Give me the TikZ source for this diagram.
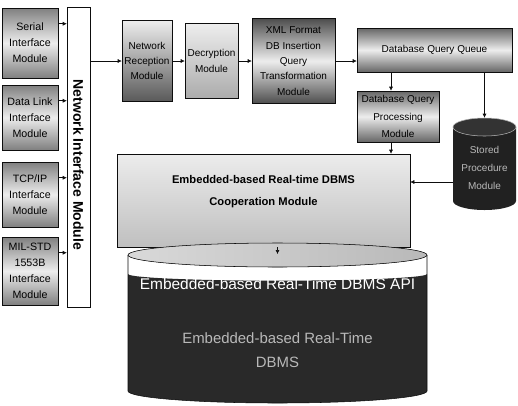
\documentclass[tikz,border=0pt]{standalone}
\usepackage{fontspec}
\setmainfont{Liberation Sans}
\usepackage{graphicx}
\usetikzlibrary{arrows.meta,calc}
\definecolor{ink}{gray}{0.05}
\definecolor{stipple}{gray}{0.5}
\definecolor{paper}{gray}{0.93}
\definecolor{tar}{gray}{0.13}
\tikzset{
  >={Latex[length=3pt,width=3pt]},
  module/.style={draw=ink,thin,inner sep=1pt,align=center,
    font=\fontsize{7.5}{11.5}\selectfont,
    top color=#1,bottom color=#1,middle color=paper},
  module/.default=stipple,
  fade/.style={draw=ink,thin,inner sep=1pt,align=center,
    font=\fontsize{7.5}{11.5}\selectfont,
    top color=paper,bottom color=#1},
  fade/.default=stipple,
  side/.style={minimum width=42pt,font=\fontsize{8}{12}\selectfont},
  link/.style={->,thin,draw=ink},
  cooptext/.style={yshift=6.75pt,align=center,
    font=\bfseries\fontsize{8.4}{17}\selectfont},
}

\begin{document}
\begin{tikzpicture}[x=0.75pt,y=-0.75pt]
  \useasboundingbox (0,0) rectangle (518,405);
  \fill[white] (0,0) rectangle (518,405);

  % interface modules
  \node[module,side,minimum height=52.5pt] (serial) at (30,43) {Serial\\Interface\\Module};
  \node[module,side,minimum height=48.75pt] (datalink) at (30,117.5) {Data Link\\Interface\\Module};
  \node[module,side,minimum height=48.75pt] (tcpip) at (30,194.5) {TCP/IP\\Interface\\Module};
  \node[module,side,minimum height=51pt] (milstd) at (30,271) {MIL-STD\\1553B\\Interface\\Module};
  \node[draw=ink,thin,fill=white,inner sep=0pt,minimum width=17.25pt,minimum height=225pt,
    font=\bfseries\fontsize{10.5}{12}\selectfont] (netif) at (78.5,157)
    {\rotatebox{-90}{\hspace*{12pt}Network Interface Module}};

  % receive path
  \node[fade=stipple!70!black,minimum width=37.5pt,minimum height=60.75pt] (netrec) at (147,61)
    {Network\\Reception\\Module};
  \node[fade=stipple!60!paper,minimum width=39.75pt,minimum height=56.25pt] (decrypt) at (211.5,61)
    {Decryption\\Module};
  \node[module=tar!80,minimum width=62.25pt,minimum height=63.75pt] (xml) at (293.5,61)
    {XML Format\\DB Insertion\\Query\\Transformation\\Module};
  \node[module=stipple!80!black,minimum width=116.25pt,minimum height=33pt] (dbqq) at (434.5,50)
    {Database Query Queue};
  \node[module=stipple!80!black,minimum width=61.5pt,minimum height=38.25pt,
    font=\fontsize{7.5}{13}\selectfont] (dbqp) at (398,116.5)
    {Database Query\\Processing\\Module};

  % stored procedures
  \fill[tar] (453,127) -- (453,201) arc[start angle=180,end angle=360,x radius=23.625pt,y radius=6.75pt]
    -- (516,127) -- cycle;
  \filldraw[fill=black!80,draw=gray!60] (484.5,127) ellipse[x radius=23.625pt,y radius=6.75pt];
  \node[text=gray!55,align=center,inner sep=0pt,minimum width=47.25pt,minimum height=75pt,
    font=\fontsize{7.5}{13.5}\selectfont] (stored) at (484.5,168) {Stored\\Procedure\\Module};

  % cooperation layer
  \node[draw=ink,thin,top color=gray!15,bottom color=gray!50,minimum width=219.75pt,minimum height=69.75pt,
    label={[cooptext]center:{Embedded-based Real-time DBMS\\Cooperation Module}}] (coop) at (263.5,200.5) {};

  % real-time database
  \fill[white] (128,255) -- (128,391) arc[start angle=180,end angle=360,x radius=112.125pt,y radius=9pt]
    -- (427,255) -- cycle;
  \fill[black!84] (128,274) -- (128,391) arc[start angle=180,end angle=360,x radius=112.125pt,y radius=9pt]
    -- (427,274) arc[start angle=0,end angle=-180,x radius=112.125pt,y radius=5pt] -- cycle;
  \draw[ink,thin] (128,255) -- (128,391) arc[start angle=180,end angle=360,x radius=112.125pt,y radius=9pt]
    -- (427,255);
  \filldraw[draw=ink,thin,left color=gray!30,right color=gray!55] (277.5,255)
    ellipse[x radius=112.125pt,y radius=9pt];
  \coordinate (dbtop) at (277.5,254);
  \node[text=white,font=\fontsize{11.6}{14}\selectfont] (dbapi) at (277.5,284)
    {Embedded-based Real-Time DBMS API};
  \node[text=gray!55,align=center,font=\fontsize{11.2}{18}\selectfont] (dbcore) at (277.5,350)
    {Embedded-based Real-Time\\DBMS};

  % connectors
  \foreach \m in {serial,datalink,tcpip,milstd}
    \draw[link] ([yshift=-12pt]\m.north east) -- ([yshift=-12pt]\m.north east -| netif.west);
  \draw[link] (netif.east |- netrec.west) -- (netrec.west);
  \draw[link] (netrec) -- (decrypt);
  \draw[link] (decrypt) -- (xml);
  \draw[link] (xml.east) -- (xml.east -| dbqq.west);
  \draw[link] ([xshift=-5.25pt]dbqp.north |- dbqq.south) -- ([xshift=-5.25pt]dbqp.north);
  \draw[link] ([xshift=-5.25pt]dbqp.south) -- ([xshift=-5.25pt]dbqp.south |- coop.north);
  \draw[link] (stored.north |- dbqq.south) -- (stored.north);
  \draw[link] ([yshift=-10.5pt]stored.west) -- ([yshift=-10.5pt]stored.west -| coop.east);
  \draw[link] (coop.south -| dbtop) -- (dbtop);
\end{tikzpicture}
\end{document}
